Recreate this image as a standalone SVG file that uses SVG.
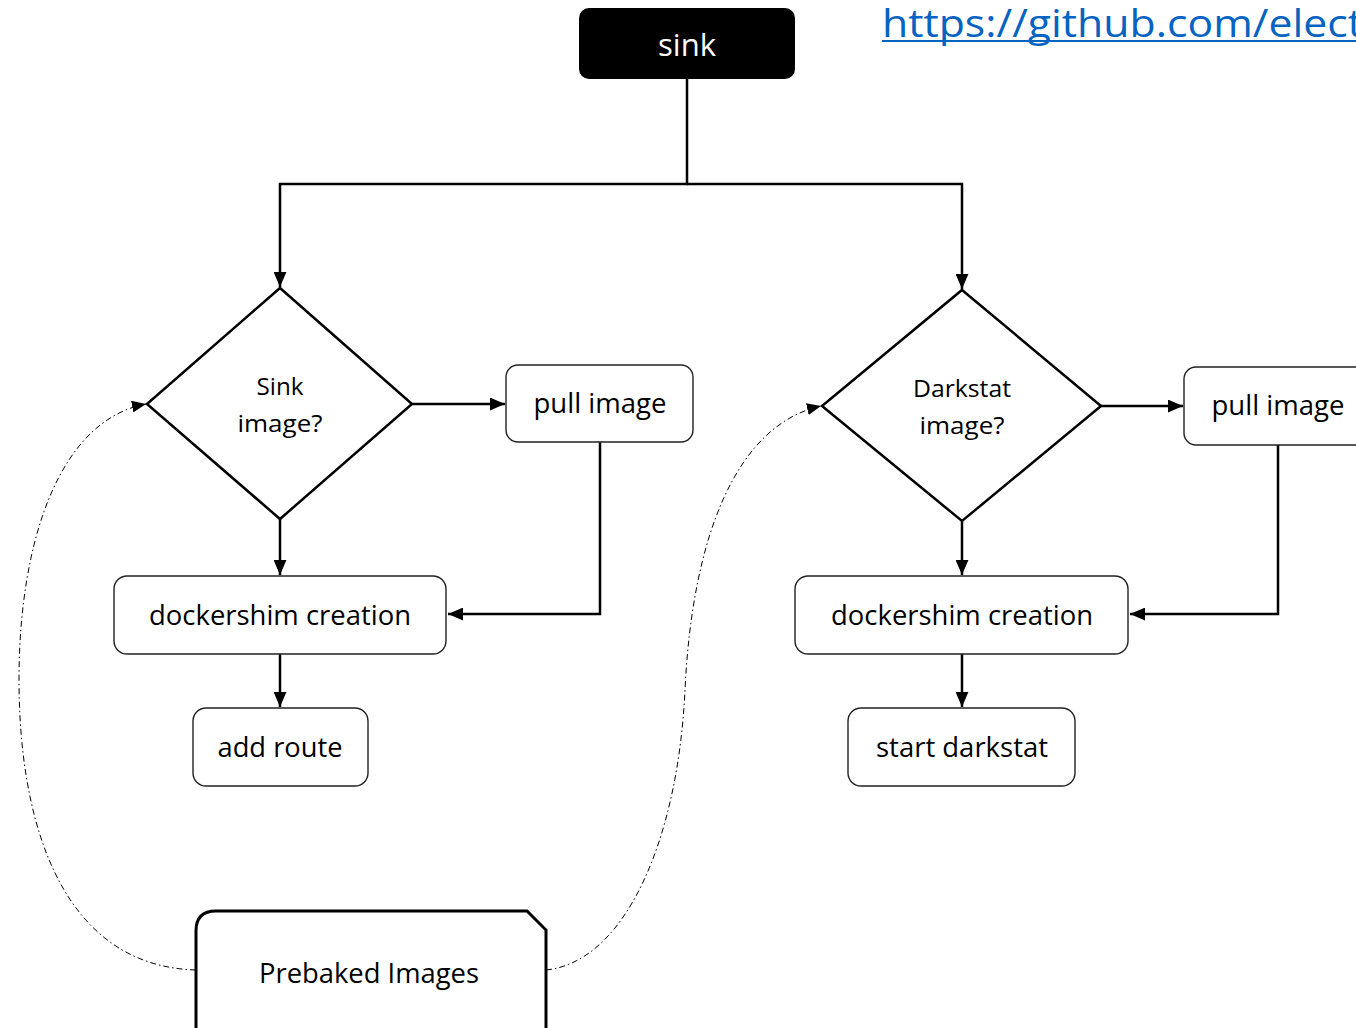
<svg xmlns="http://www.w3.org/2000/svg" width="1356" height="1028" viewBox="0 0 1356 1028">
<defs>
<style>
text{font-family:"Open Sans","Noto Sans","Liberation Sans",sans-serif;fill:#000;text-anchor:middle}
.box{fill:#fff;stroke:#222;stroke-width:1.4}
.dia{fill:#fff;stroke:#000;stroke-width:2.5}
.lbl{font-size:27px}
.dlbl{font-size:24px}
.con{fill:none;stroke:#000;stroke-width:2.5}
.dash{fill:none;stroke:#000;stroke-width:1;stroke-dasharray:6 3 1.5 3}
</style>
<marker id="ah" viewBox="0 0 14 12" refX="14" refY="6" markerWidth="15" markerHeight="13" markerUnits="userSpaceOnUse" orient="auto">
<path d="M0,0 L14,6 L0,12 Z" fill="#000"/>
</marker>
<marker id="ahs" viewBox="0 0 14 12" refX="14" refY="6" markerWidth="14" markerHeight="12" markerUnits="userSpaceOnUse" orient="auto">
<path d="M0,0 L14,6 L0,12 Z" fill="#000"/>
</marker>
</defs>
<rect width="1356" height="1028" fill="#fff"/>

<g id="connectors">
<path class="con" d="M687,79 V184 H280 V287" marker-end="url(#ah)"/>
<path class="con" d="M687,184 H962 V289" marker-end="url(#ah)"/>
<path class="con" d="M412,404 H505" marker-end="url(#ah)"/>
<path class="con" d="M600,442 V614 H448" marker-end="url(#ah)"/>
<path class="con" d="M280,519 V575" marker-end="url(#ah)"/>
<path class="con" d="M280,654 V707" marker-end="url(#ah)"/>
<path class="con" d="M1101,406 H1183" marker-end="url(#ah)"/>
<path class="con" d="M1278,445 V614 H1130" marker-end="url(#ah)"/>
<path class="con" d="M962,521 V575" marker-end="url(#ah)"/>
<path class="con" d="M962,654 V707" marker-end="url(#ah)"/>
<path class="dash" d="M196,970 C60,966 19,820 19,680 C19,540 60,420 146,404" marker-end="url(#ahs)"/>
<path class="dash" d="M546,970 C625,962 678,840 685,690 C692,540 735,425 821,406" marker-end="url(#ahs)"/>
</g>

<g id="sink">
<rect x="579" y="8" width="216" height="71" rx="10" fill="#000"/>
<text x="687" y="56" style="font-size:31px;fill:#fff" textLength="58" lengthAdjust="spacingAndGlyphs">sink</text>
</g>

<g id="url">
<text x="882" y="37" style="font-size:38px;fill:#0563C1;text-anchor:start" textLength="481" lengthAdjust="spacingAndGlyphs">https://github.com/elect</text>
<rect x="882" y="40" width="480" height="2" fill="#0563C1"/>
</g>

<g id="sink-image">
<polygon class="dia" points="280,288 412,404 280,519 147,404"/>
<text class="dlbl" x="280" y="395" textLength="47" lengthAdjust="spacingAndGlyphs">Sink</text>
<text class="dlbl" x="280" y="432" textLength="85" lengthAdjust="spacingAndGlyphs">image?</text>
</g>

<g id="pull-image-1">
<rect class="box" x="506" y="365" width="187" height="77" rx="12"/>
<text class="lbl" x="600" y="413" textLength="133" lengthAdjust="spacingAndGlyphs">pull image</text>
</g>

<g id="dockershim-1">
<rect class="box" x="114" y="576" width="332" height="78" rx="13"/>
<text class="lbl" x="280" y="625" textLength="262" lengthAdjust="spacingAndGlyphs">dockershim creation</text>
</g>

<g id="add-route">
<rect class="box" x="193" y="708" width="175" height="78" rx="13"/>
<text class="lbl" x="280" y="757" textLength="125" lengthAdjust="spacingAndGlyphs">add route</text>
</g>

<g id="darkstat-image">
<polygon class="dia" points="962,290 1101,406 962,521 822,406"/>
<text class="dlbl" x="962" y="397" textLength="98" lengthAdjust="spacingAndGlyphs">Darkstat</text>
<text class="dlbl" x="962" y="434" textLength="85" lengthAdjust="spacingAndGlyphs">image?</text>
</g>

<g id="pull-image-2">
<rect class="box" x="1184" y="367" width="190" height="78" rx="12"/>
<text class="lbl" x="1278" y="415" textLength="133" lengthAdjust="spacingAndGlyphs">pull image</text>
</g>

<g id="dockershim-2">
<rect class="box" x="795" y="576" width="333" height="78" rx="13"/>
<text class="lbl" x="962" y="625" textLength="262" lengthAdjust="spacingAndGlyphs">dockershim creation</text>
</g>

<g id="start-darkstat">
<rect class="box" x="848" y="708" width="227" height="78" rx="13"/>
<text class="lbl" x="962" y="757" textLength="172" lengthAdjust="spacingAndGlyphs">start darkstat</text>
</g>

<g id="prebaked-images">
<path d="M196,1040 V931 Q196,911 216,911 H527 L546,930 V1040" fill="#fff" stroke="#000" stroke-width="3"/>
<text class="lbl" x="369" y="983" textLength="220" lengthAdjust="spacingAndGlyphs">Prebaked Images</text>
</g>
</svg>
